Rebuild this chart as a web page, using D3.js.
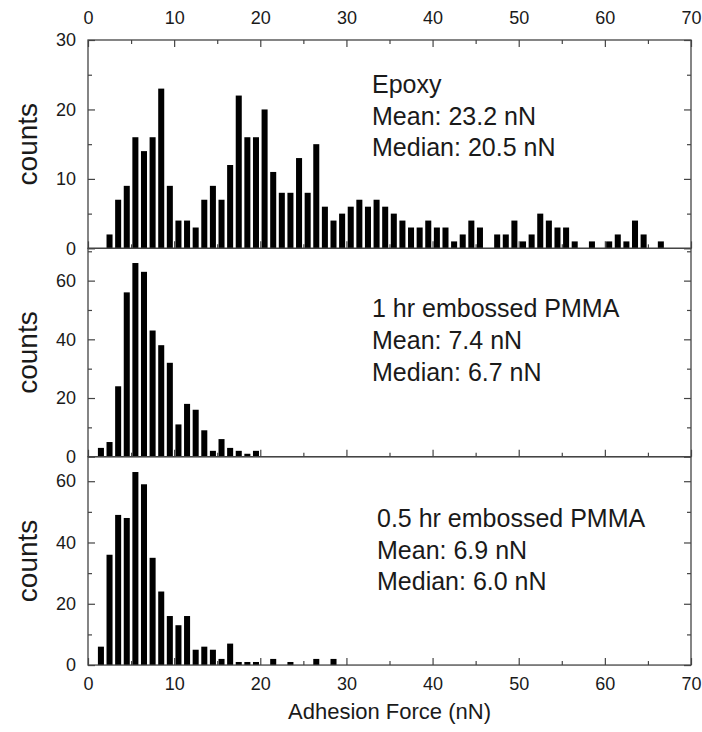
<!DOCTYPE html>
<html>
<head>
<meta charset="utf-8">
<script src="https://cdn.jsdelivr.net/npm/d3@7"></script>
<style>
    body { margin: 0; background: #fff; }
    text { font-family: "Liberation Sans", Arial, sans-serif; fill: #1a1a1a; }
</style>
</head>
<body>
<div id="chart"></div>
<script>
// bin start values (1 nN wide bins) and counts per panel
const epoxyCounts = [0, 0, 2, 7, 9, 16, 14, 16, 23, 9,
    4, 4, 3, 7, 9, 7, 12, 22, 16, 16,
    20, 11, 8, 8, 13, 8, 15, 6, 4, 5,
    6, 7, 6, 7, 6, 5, 4, 3, 3, 4,
    3, 3, 1, 2, 4, 3, 0, 2, 2, 4,
    1, 2, 5, 4, 3, 3, 1, 0, 1, 0,
    1, 2, 1, 4, 2, 0, 1]
const pmma1hCounts = [0, 3, 5, 24, 56, 66, 63, 43, 38, 32,
    11, 18, 16, 9, 2, 6, 3, 2, 1, 2]
const pmma05hCounts = [0, 6, 36, 49, 48, 63, 59, 35, 24, 16,
    13, 16, 5, 6, 5, 2, 7, 1, 1, 1,
    0, 2, 0, 1, 0, 0, 2, 0, 2]

const xTicks = [0, 10, 20, 30, 40, 50, 60, 70]
const xMinorTicks = [5, 15, 25, 35, 45, 55, 65]

const panels = [
    {counts: epoxyCounts, yMax: 30, major: [0, 10, 20, 30], minor: [5, 15, 25],
        lines: ["Epoxy", "Mean: 23.2 nN", "Median: 20.5 nN"], textX: 372, textY: 52.7},
    {counts: pmma1hCounts, yMax: 71, major: [0, 20, 40, 60], minor: [10, 30, 50, 70],
        lines: ["1 hr embossed PMMA", "Mean: 7.4 nN", "Median: 6.7 nN"], textX: 372, textY: 69},
    {counts: pmma05hCounts, yMax: 68, major: [0, 20, 40, 60], minor: [10, 30, 50],
        lines: ["0.5 hr embossed PMMA", "Mean: 6.9 nN", "Median: 6.0 nN"], textX: 377, textY: 70},
]

const dimensions = {
    width: 702,
    height: 732,
    left: 88,
    right: 691,
    top: 40,
    panelHeight: 208.35,
}
const lineColor = "#444"

const svg = d3.select("#chart")
    .append("svg")
    .attr("width", dimensions.width)
    .attr("height", dimensions.height)

const xScale = d3.scaleLinear()
    .domain([0, 70])
    .range([dimensions.left, dimensions.right])
const barOffset = 0.15
const barWidth = xScale(0.7) - xScale(0)

function styleAxis(g) {
    g.select(".domain").remove()
    g.selectAll(".tick line").attr("stroke", lineColor).attr("stroke-width", 1.2)
    g.selectAll(".tick text")
        .style("font-size", "18px")
        .attr("fill", "#1a1a1a")
}

panels.forEach((p, i) => {
    const top = dimensions.top + i * dimensions.panelHeight
    const bottom = top + dimensions.panelHeight
    const yScale = d3.scaleLinear()
        .domain([0, p.yMax])
        .range([bottom, top])

    const bounds = svg.append("g")

    const bins = p.counts.map((c, k) => ({bin: k, count: c})).filter(d => d.count > 0)
    bounds.selectAll("rect.bar")
        .data(bins)
        .join("rect")
        .attr("class", "bar")
        .attr("x", d => xScale(d.bin + barOffset))
        .attr("width", barWidth)
        .attr("y", d => yScale(d.count))
        .attr("height", d => yScale(0) - yScale(d.count))
        .attr("fill", "#000")

    // left axis, ticks pointing inside
    bounds.append("g")
        .attr("transform", "translate(" + dimensions.left + ",0)")
        .call(d3.axisLeft(yScale).tickValues(p.major).tickSize(-7).tickPadding(12))
        .call(styleAxis)
    bounds.append("g")
        .attr("transform", "translate(" + dimensions.left + ",0)")
        .call(d3.axisLeft(yScale).tickValues(p.minor).tickSize(-4).tickFormat(""))
        .call(styleAxis)
    // right axis
    bounds.append("g")
        .attr("transform", "translate(" + dimensions.right + ",0)")
        .call(d3.axisRight(yScale).tickValues(p.major).tickSize(-7).tickFormat(""))
        .call(styleAxis)
    bounds.append("g")
        .attr("transform", "translate(" + dimensions.right + ",0)")
        .call(d3.axisRight(yScale).tickValues(p.minor).tickSize(-4).tickFormat(""))
        .call(styleAxis)

    // bottom axis, labels only on the last panel
    const isLast = i === panels.length - 1
    bounds.append("g")
        .attr("transform", "translate(0," + bottom + ")")
        .call(d3.axisBottom(xScale).tickValues(xTicks).tickSize(-7).tickPadding(12)
            .tickFormat(isLast ? d3.format("d") : ""))
        .call(styleAxis)
    bounds.append("g")
        .attr("transform", "translate(0," + bottom + ")")
        .call(d3.axisBottom(xScale).tickValues(xMinorTicks).tickSize(-4).tickFormat(""))
        .call(styleAxis)

    if (i === 0) {
        bounds.append("g")
            .attr("transform", "translate(0," + top + ")")
            .call(d3.axisTop(xScale).tickValues(xTicks).tickSize(-7).tickPadding(16))
            .call(styleAxis)
        bounds.append("g")
            .attr("transform", "translate(0," + top + ")")
            .call(d3.axisTop(xScale).tickValues(xMinorTicks).tickSize(-4).tickFormat(""))
            .call(styleAxis)
    }

    bounds.append("rect")
        .attr("x", dimensions.left)
        .attr("y", top)
        .attr("width", dimensions.right - dimensions.left)
        .attr("height", dimensions.panelHeight)
        .attr("fill", "none")
        .attr("stroke", lineColor)
        .attr("stroke-width", 1.3)

    bounds.selectAll("text.note")
        .data(p.lines)
        .join("text")
        .attr("class", "note")
        .attr("x", p.textX)
        .attr("y", (d, k) => top + p.textY + k * 31.8)
        .style("font-size", "25px")
        .text(d => d)

    bounds.append("text")
        .attr("transform", "translate(37," + (top + dimensions.panelHeight / 2) + ") rotate(-90)")
        .attr("text-anchor", "middle")
        .style("font-size", "28px")
        .text("counts")
})

svg.append("text")
    .attr("x", (dimensions.left + dimensions.right) / 2)
    .attr("y", 719)
    .attr("text-anchor", "middle")
    .style("font-size", "22px")
    .text("Adhesion Force (nN)")
</script>
</body>
</html>
